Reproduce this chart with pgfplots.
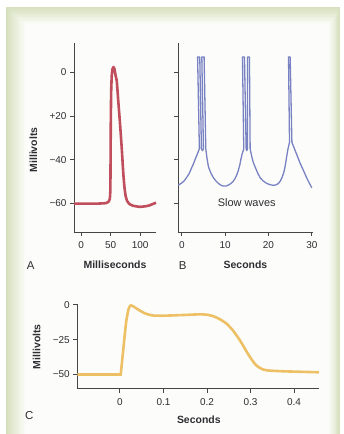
\documentclass[border=0pt]{standalone}
\usepackage{fontspec}
\setmainfont{Liberation Sans}
\usepackage{pgfplots}
\pgfplotsset{compat=1.18}
\definecolor{redA}{RGB}{192,78,92}
\definecolor{blueB}{RGB}{120,130,195}
\definecolor{goldC}{RGB}{237,192,102}
\definecolor{axgray}{RGB}{70,70,70}
\definecolor{txt}{RGB}{45,45,50}
\definecolor{sage}{RGB}{214,224,190}
\definecolor{inner}{RGB}{252,253,250}

\pgfplotsset{panel/.style={
  scale only axis, axis lines=left,
  axis line style={-, draw=axgray, line width=0.9bp},
  tick style={draw=axgray, line width=0.9bp}, major tick length=4bp, tick align=outside,
  tick label style={font=\fontsize{10}{12}\selectfont, text=txt},
  /pgf/number format/assume math mode=true,
  xticklabel style={yshift=-2bp},
  anchor=south west, clip=false,
}}

\begin{document}
\begin{tikzpicture}[x=1bp,y=1bp]
\useasboundingbox (0,0) rectangle (343,434);
\fill[white] (0,0) rectangle (343,434);
\foreach \i in {0,...,12}{
  \pgfmathtruncatemacro{\p}{100-\i*100/12}
  \fill[sage!\p!inner] ({6+1.6*\i},-10) rectangle ({340-0.9*\i},{427-1.4*\i});
}

% Panel A
\begin{axis}[panel, at={(74bp,202bp)}, width=82bp, height=189bp,
  xmin=-12, xmax=127, ymin=-73, ymax=13.4,
  xtick={0,50,100}, ytick={-60,-40,-20,0}, yticklabels={−60,−40,+20,0}]
\addplot[redA, line width=2.6bp, line join=round, smooth, tension=0.3] coordinates {
(-12,-60) (0,-60) (30,-60) (42,-59.8) (46,-59.3) (48.6,-58) (49.6,-54) (50.0,-40) (50.4,-22) (51.0,-9) (52.0,-1.5) (53.3,1.6) (55,2.4) (56.7,1.4) (58.5,-1.5) (60.5,-4)
(63,-13) (66,-23.5) (69,-35) (71.5,-46) (73.5,-52.5) (75.5,-56.5) (78,-58.8) (82,-60.2) (88,-61.0) (100,-61.5) (114,-61) (127,-59.6)
};
\end{axis}

% Panel B
\begin{axis}[panel, at={(178.3bp,202bp)}, width=134.4bp, height=189bp,
  xmin=-0.8, xmax=30.2, ymin=-73, ymax=13.4,
  xtick={0,10,20,30}, ytick={-60,-40,-20,0}, yticklabels={}]
\addplot[blueB, line width=1.3bp, line join=round] coordinates {
(-0.8,-51.6) (0,-50.6) (0.6,-49.5) (1.15,-48) (1.7,-46.3) (2.2,-44) (2.7,-41.8) (3.2,-39.2) (3.6,-37.3) (4.06,-35)
(3.65,7) (4.15,7) (4.53,-35) (4.75,-35.8) (5.0,-35)
(4.62,7) (5.15,7) (5.54,-35)
(5.8,-39) (6.15,-43.2) (6.7,-46) (7.3,-48.2) (7.9,-49.7) (8.46,-50.8) (9.0,-51.6) (9.6,-52) (10.3,-52) (11.15,-51.1) (11.8,-50) (12.3,-48.5) (12.7,-46.8) (13.08,-44.7) (13.4,-42.2) (13.6,-40.1) (13.9,-37.5) (14.3,-35)
(14.0,7) (14.46,7) (14.85,-35) (15.0,-35.8) (15.15,-35)
(15.15,7) (15.61,7) (15.77,-35)
(16.15,-38.6) (16.5,-41.2) (16.9,-43.2) (17.5,-46) (18.08,-48.2) (18.8,-49.7) (19.6,-50.8) (20.4,-51.4) (21.2,-51.7) (21.8,-51.4) (22.3,-50.8) (22.7,-49.8) (23.1,-48.2) (23.5,-46) (23.85,-42.9) (24.2,-38.5) (24.5,-35) (24.85,-32)
(24.62,7) (25.0,7) (25.4,-32)
(26.0,-35) (26.56,-37.8) (27.3,-41.6) (28.0,-44.6) (28.8,-48.2) (29.4,-50.6) (30.0,-52.8)
};
\end{axis}

% Panel C
\begin{axis}[panel, at={(77.3bp,45.3bp)}, width=241.7bp, height=84.7bp,
  xmin=-0.098, xmax=0.4575, ymin=-60.2, ymax=0.6,
  xtick={0,0.1,0.2,0.3,0.4}, xticklabels={0,0.1,0.2,0.3,0.4},
  ytick={-50,-25,0}, yticklabels={−50,−25,0}]
\addplot[goldC, line width=2.6bp, line join=round, smooth, tension=0.35] coordinates {
(-0.098,-50) (-0.05,-50) (-0.001,-50) (0.002,-49) (0.008,-31) (0.014,-13) (0.019,-4) (0.023,-0.8) (0.026,-0.4) (0.030,-1.0) (0.037,-2.4) (0.046,-4.2) (0.056,-5.9) (0.066,-7.0) (0.078,-7.7) (0.1,-7.8) (0.146,-7.3) (0.184,-6.8) (0.2,-7.1) (0.215,-8.2) (0.23,-10.4) (0.245,-13.5) (0.26,-18.5) (0.276,-25.6) (0.29,-33) (0.3,-38) (0.31,-42.3) (0.318,-44.6) (0.328,-46.3) (0.34,-47.1) (0.375,-47.7) (0.457,-48.4)
};
\end{axis}

% Labels
\node[rotate=90, font=\bfseries\fontsize{10.5}{12}\selectfont, text=txt] at (33.3,284) {Millivolts};
\node[font=\bfseries\fontsize{10.5}{12}\selectfont, text=txt] at (115,169) {Milliseconds};
\node[font=\fontsize{11.5}{13}\selectfont, text=txt] at (30.8,168.5) {A};
\node[font=\fontsize{11.5}{13}\selectfont, text=txt] at (182.7,168.5) {B};
\node[font=\bfseries\fontsize{10.5}{12}\selectfont, text=txt] at (245.5,169) {Seconds};
\node[font=\fontsize{11}{13}\selectfont, text=txt] at (246.7,231.7) {Slow waves};
\node[rotate=90, font=\bfseries\fontsize{10.5}{12}\selectfont, text=txt] at (36.7,87.3) {Millivolts};
\node[font=\fontsize{11.5}{13}\selectfont, text=txt] at (29.2,18.2) {C};
\node[font=\bfseries\fontsize{10.5}{12}\selectfont, text=txt] at (198.8,14.5) {Seconds};
\end{tikzpicture}
\end{document}
